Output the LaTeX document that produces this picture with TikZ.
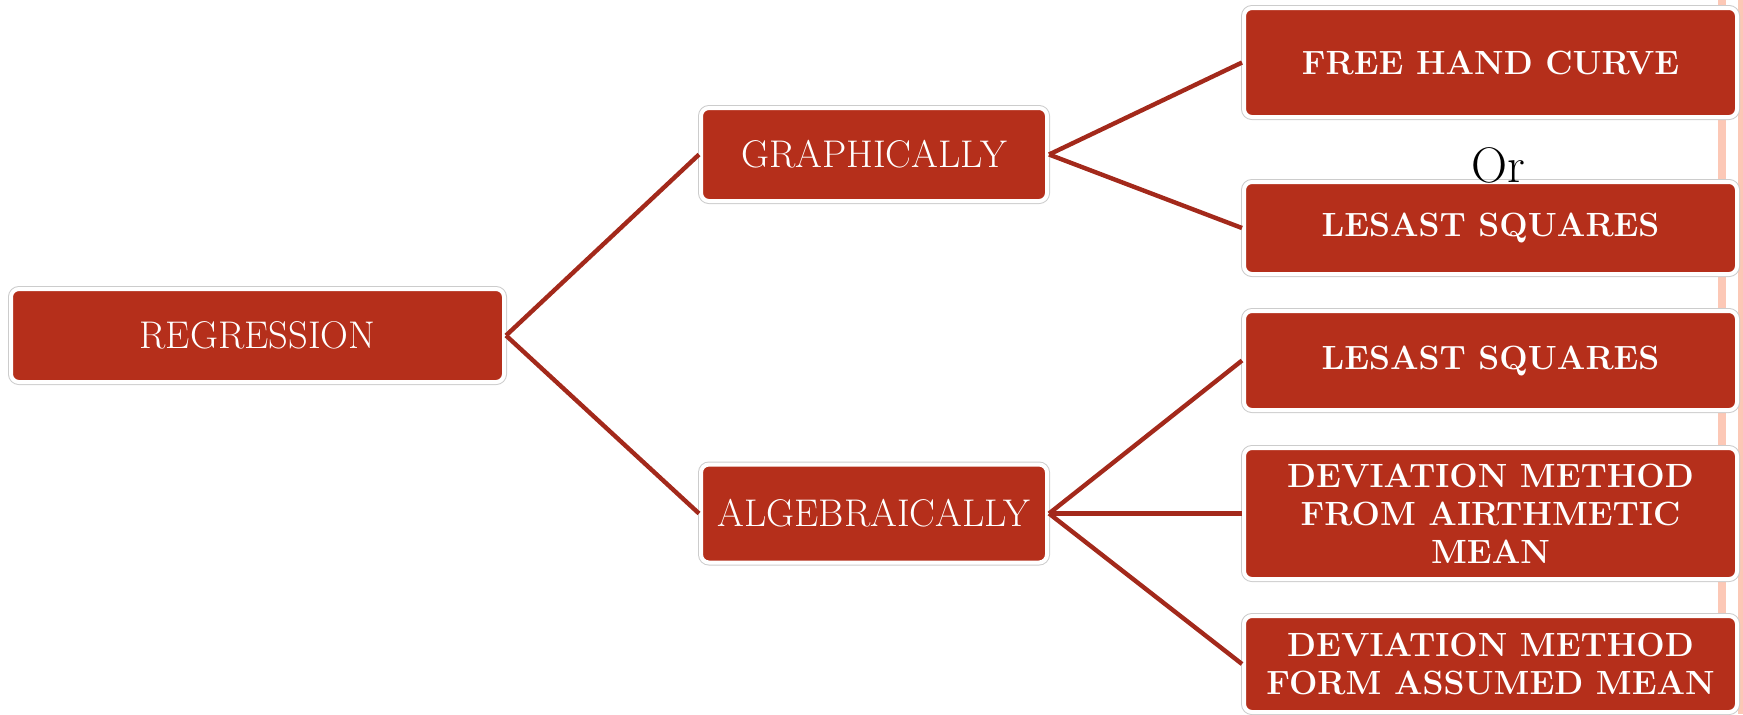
\documentclass[tikz,border=0pt]{standalone}
\usepackage{amssymb,amsmath}
\usepackage{tikz}

\definecolor{boxred}{RGB}{181,47,27}
\definecolor{linkred}{RGB}{163,41,27}
\definecolor{barpink}{RGB}{252,200,182}

\begin{document}
\begin{tikzpicture}[x=0.5pt, y=-0.5pt,
  box/.style={rectangle, rounded corners=4pt, fill=boxred, draw=white, line width=2pt,
    text=white, align=center, inner sep=0pt,
    preaction={draw=gray!40, line width=3pt}},
  plain/.style={box, font=\fontsize{19.3}{23}\selectfont},
  bold/.style={box, font=\bfseries\fontsize{16.8}{19}\selectfont,
    minimum width=246.5pt},
  link/.style={draw=linkred, line width=2.2pt}
]
\useasboundingbox (0,0) rectangle (1743,714);

% pink bars at the right edge
\fill[barpink] (1718,0) rectangle (1726,714);
\fill[barpink] (1738,0) rectangle (1743,714);

\node[plain, minimum width=246.5pt, minimum height=46.5pt] at (257.5,335.5) (nreg) {REGRESSION};
\node[plain, minimum width=173pt, minimum height=46.5pt] at (874,154.5) (ngra) {GRAPHICALLY};
\node[plain, minimum width=173pt, minimum height=49pt] at (874,513.5) (nalg) {ALGEBRAICALLY};

\node[bold, minimum height=54.5pt] at (1490.5,62.5) (n1) {FREE HAND CURVE};
\node[bold, minimum height=46pt] at (1490.5,228) (n2) {LESAST SQUARES};
\node[bold, minimum height=49.5pt] at (1490.5,360.5) (n3) {LESAST SQUARES};
\node[bold, minimum height=65.5pt] at (1490.5,513.5) (n4) {DEVIATION METHOD\\FROM AIRTHMETIC\\MEAN};
\node[bold, minimum height=48pt] at (1490.5,664) (n5) {DEVIATION METHOD\\FORM ASSUMED MEAN};

\node[font=\fontsize{25}{30}\selectfont] at (1498,165) (nor) {Or};

\path[link] (nreg.east) -- (ngra.west);
\path[link] (nreg.east) -- (nalg.west);
\path[link] (ngra.east) -- (n1.west);
\path[link] (ngra.east) -- (n2.west);
\path[link] (nalg.east) -- (n3.west);
\path[link] (nalg.east) -- (n4.west);
\path[link] (nalg.east) -- (n5.west);

\end{tikzpicture}
\end{document}
